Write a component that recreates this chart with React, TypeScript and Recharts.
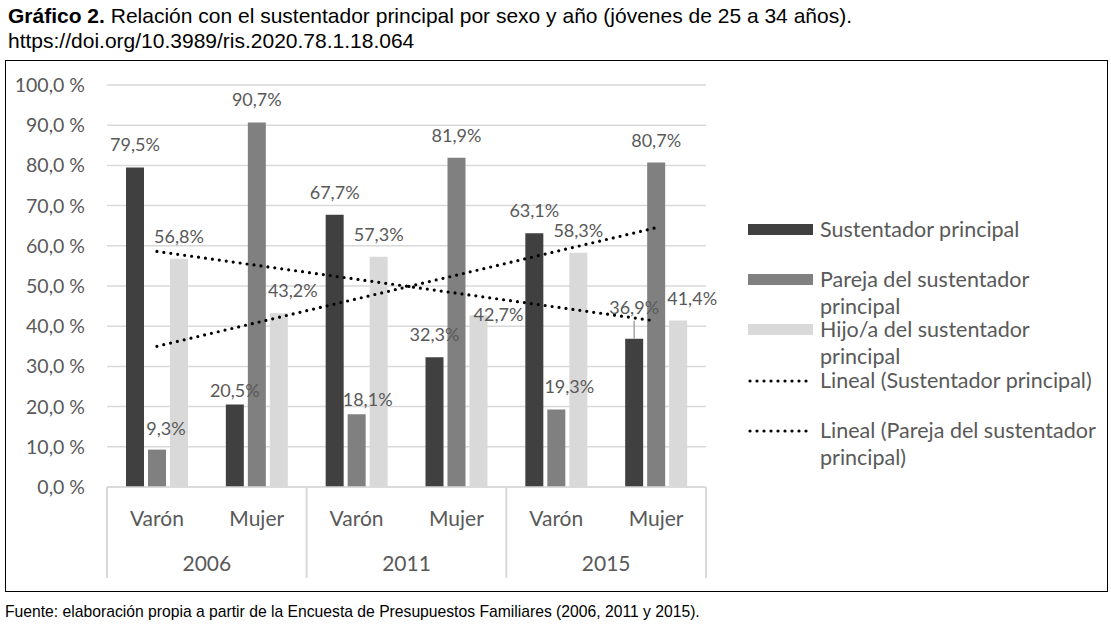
import React from "react";
import {
  ComposedChart, Bar, Line, XAxis, YAxis, CartesianGrid, LabelList,
} from "recharts";

const years = ["2006", "2006", "2011", "2011", "2015", "2015"];
const sexes = ["Varón", "Mujer", "Varón", "Mujer", "Varón", "Mujer"];
const sustentador = [79.5, 20.5, 67.7, 32.3, 63.1, 36.9];
const pareja = [9.3, 90.7, 18.1, 81.9, 19.3, 80.7];
const hijo = [56.8, 43.2, 57.3, 42.7, 58.3, 41.4];
const trendSustentador = [58.6, null, null, null, null, 41.3];
const trendPareja = [35.0, null, null, null, null, 64.5];
const yTicks = [0, 10, 20, 30, 40, 50, 60, 70, 80, 90, 100];

const data = sexes.map((s, i) => ({
  sexo: s,
  year: years[i],
  sust: sustentador[i],
  pareja: pareja[i],
  hijo: hijo[i],
  trendSust: trendSustentador[i],
  trendPareja: trendPareja[i],
}));

const DARK = "#404040";
const MID = "#808080";
const LIGHT = "#d9d9d9";
const GRID = "#d9d9d9";
const TEXT = "#595959";
const FONT = "Lato, 'Open Sans', sans-serif";

const PLOT_W = 599;
const BAND = PLOT_W / 6;

// label nudges (Excel labels were moved by hand in a few places)
const sustNudge = [[0, 0], [0, 8], [0, 0], [0, 0], [0, 0], [0, -9]];
const parejaNudge = [[9, 1], [0, 0], [11, 8], [0, 0], [13, 0], [0, 0]];
const hijoNudge = [[0, 0], [14, 0], [0, 0], [20, 22], [0, 0], [14, 0]];

const fmt = (v: number) => v.toFixed(1).replace(".", ",") + "%";

function makeLabel(nudges: number[][], leaderAt?: number) {
  return function BarLabel({ x, y, width, value, index }: any) {
    const [dx, dy] = nudges[index] || [0, 0];
    const cx = x + width / 2;
    return (
      <g>
        {index === leaderAt && (
          <line x1={cx} y1={y} x2={cx} y2={y - 18} stroke="#a6a6a6" strokeWidth={1.5} />
        )}
        <text
          x={cx + dx}
          y={y - 16 + dy}
          textAnchor="middle"
          fill={TEXT}
          fontSize={18}
          fontFamily={FONT}
        >
          {fmt(value)}
        </text>
      </g>
    );
  };
}

function CategoryTick({ x, y, payload, index }: any) {
  const left = x - BAND / 2;
  return (
    <g>
      {index % 2 === 0 && (
        <line x1={left} y1={y} x2={left} y2={y + 91} stroke={GRID} strokeWidth={2} />
      )}
      {index === 5 && (
        <line x1={x + BAND / 2} y1={y} x2={x + BAND / 2} y2={y + 91} stroke={GRID} strokeWidth={2} />
      )}
      <text x={x} y={y + 30} textAnchor="middle" dominantBaseline="central"
        fill={TEXT} fontSize={21} fontFamily={FONT}>
        {payload.value}
      </text>
      {index % 2 === 1 && (
        <text x={left} y={y + 75} textAnchor="middle" dominantBaseline="central"
          fill={TEXT} fontSize={21} fontFamily={FONT}>
          {years[index]}
        </text>
      )}
    </g>
  );
}

const legendItems = [
  { name: "Sustentador principal", color: DARK, kind: "bar" },
  { name: "Pareja del sustentador principal", color: MID, kind: "bar" },
  { name: "Hijo/a del sustentador principal", color: LIGHT, kind: "bar" },
  { name: "Lineal (Sustentador principal)", color: "#000", kind: "line" },
  { name: "Lineal (Pareja del sustentador principal)", color: "#000", kind: "line" },
];

function ChartLegend() {
  return (
    <div style={{ position: "absolute", left: 748, top: 0 }}>
      {legendItems.map((it, i) => (
        <div key={it.name} style={{ position: "absolute", left: 0, top: 216 + i * 50.2, width: 362 }}>
          {it.kind === "bar" ? (
            <div style={{ position: "absolute", left: 0, top: 8, width: 65, height: 11, background: it.color }} />
          ) : (
            <svg width={66} height={8} style={{ position: "absolute", left: 0, top: 10 }}>
              <line x1={2} y1={4} x2={64} y2={4} stroke="#000" strokeWidth={3.2}
                strokeDasharray="0 7" strokeLinecap="round" />
            </svg>
          )}
          <div style={{
            position: "absolute", left: 72, top: 0, width: 286,
            fontFamily: FONT, fontSize: 21.5, lineHeight: "27px", color: TEXT,
          }}>
            {it.name}
          </div>
        </div>
      ))}
    </div>
  );
}

export default function App() {
  return (
    <div style={{ position: "fixed", left: 0, top: 0, width: 1111, height: 628, background: "#fff" }}>
      <div style={{
        position: "absolute", left: 8, top: 3, fontFamily: "'Liberation Sans', Arial, sans-serif",
        fontSize: 21, lineHeight: "25px", color: "#000",
      }}>
        <div><b>Gráfico 2.</b> Relación con el sustentador principal por sexo y año (jóvenes de 25 a 34 años).</div>
        <div>https://doi.org/10.3989/ris.2020.78.1.18.064</div>
      </div>
      <div style={{
        position: "absolute", left: 5, top: 60, width: 1103, height: 532,
        border: "1px solid #000", boxSizing: "border-box",
      }} />
      <div style={{ position: "absolute", left: 5, top: 60 }}>
        <ComposedChart
          width={1103}
          height={532}
          data={data}
          margin={{ top: 25, right: 402, bottom: 10, left: 0 }}
          barSize={18}
          barGap={4}
        >
          <CartesianGrid vertical={false} stroke={GRID} strokeWidth={1.5} />
          <XAxis
            dataKey="sexo"
            height={95}
            tickSize={0}
            tickMargin={0}
            interval={0}
            axisLine={{ stroke: GRID, strokeWidth: 1.5 }}
            tickLine={false}
            tick={<CategoryTick />}
          />
          <YAxis
            domain={[0, 100]}
            ticks={yTicks}
            width={102}
            axisLine={false}
            tickLine={false}
            tickSize={0}
            tickMargin={22}
            tickFormatter={(v: number) => v.toFixed(1).replace(".", ",") + " %"}
            tick={{ fill: TEXT, fontSize: 19.5, fontFamily: FONT }}
          />
          <Bar dataKey="sust" name="Sustentador principal" fill={DARK} isAnimationActive={false}>
            <LabelList dataKey="sust" content={makeLabel(sustNudge, 5)} />
          </Bar>
          <Bar dataKey="pareja" name="Pareja del sustentador principal" fill={MID} isAnimationActive={false}>
            <LabelList dataKey="pareja" content={makeLabel(parejaNudge)} />
          </Bar>
          <Bar dataKey="hijo" name="Hijo/a del sustentador principal" fill={LIGHT} isAnimationActive={false}>
            <LabelList dataKey="hijo" content={makeLabel(hijoNudge)} />
          </Bar>
          <Line
            dataKey="trendSust"
            name="Lineal (Sustentador principal)"
            stroke="#000"
            strokeWidth={3.2}
            strokeDasharray="0 7"
            strokeLinecap="round"
            dot={false}
            activeDot={false}
            connectNulls
            isAnimationActive={false}
          />
          <Line
            dataKey="trendPareja"
            name="Lineal (Pareja del sustentador principal)"
            stroke="#000"
            strokeWidth={3.2}
            strokeDasharray="0 7"
            strokeLinecap="round"
            dot={false}
            activeDot={false}
            connectNulls
            isAnimationActive={false}
          />
        </ComposedChart>
      </div>
      <ChartLegend />
      <div style={{
        position: "absolute", left: 5, top: 603, fontFamily: "'Liberation Sans', Arial, sans-serif",
        fontSize: 15.7, color: "#000",
      }}>
        Fuente: elaboración propia a partir de la Encuesta de Presupuestos Familiares (2006, 2011 y 2015).
      </div>
    </div>
  );
}
